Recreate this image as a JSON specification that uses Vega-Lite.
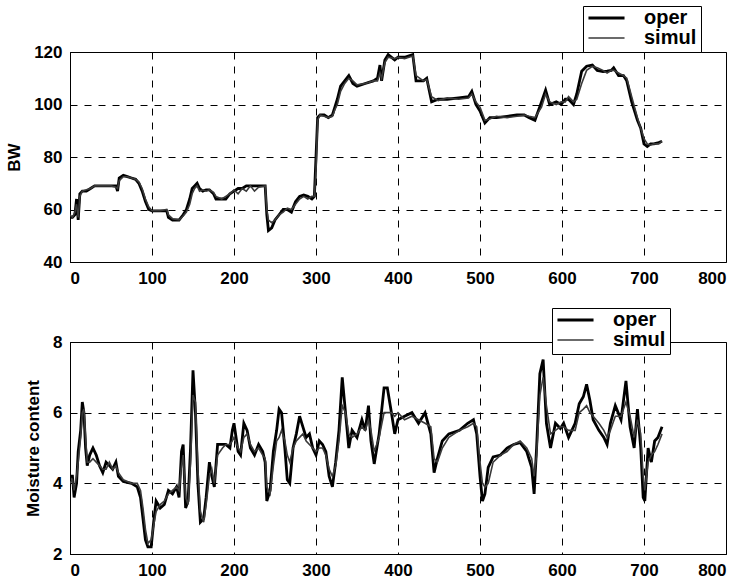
{
  "$schema": "https://vega.github.io/schema/vega-lite/v6.json",
  "background": "white",
  "padding": {"left": 5, "top": 5, "right": 5, "bottom": 5},
  "autosize": {"type": "pad"},
  "spacing": 80,
  "bounds": "flush",
  "config": {
    "font": "Liberation Sans",
    "view": {"stroke": "black", "strokeWidth": 1},
    "axis": {
      "labelFont": "Liberation Sans", "labelFontWeight": "bold", "labelFontSize": 17, "labelColor": "black",
      "titleFont": "Liberation Sans", "titleFontWeight": "bold", "titleFontSize": 17, "titleColor": "black",
      "domainColor": "black", "ticks": false, "labelPadding": 8,
      "grid": true, "gridColor": "black", "gridDash": [7, 7], "gridOpacity": 1, "gridWidth": 1
    },
    "legend": {
      "labelFont": "Liberation Sans", "labelFontWeight": "bold", "labelFontSize": 20, "labelColor": "black",
      "symbolType": "stroke", "symbolSize": 1300, "symbolStrokeWidth": 2, "clipHeight": 16,
      "strokeColor": "black", "fillColor": "white", "padding": 4, "rowPadding": 0, "labelOffset": 18
    }
  },
  "resolve": {"scale": {"color": "independent", "strokeWidth": "independent"}, "legend": {"color": "independent"}},
  "vconcat": [
    {
      "width": 656, "height": 210,
      "data": {"values": [
        {"t":0,"oper":57,"simul":58},{"t":3,"oper":57,"simul":57},{"t":6,"oper":58,"simul":59},{"t":8,"oper":64,"simul":62},{"t":10,"oper":56,"simul":57},{"t":12,"oper":66,"simul":65},{"t":15,"oper":67,"simul":67},{"t":20,"oper":67,"simul":67.5},{"t":25,"oper":68,"simul":68},{"t":30,"oper":69,"simul":69},{"t":40,"oper":69,"simul":69},{"t":50,"oper":69,"simul":69},{"t":56,"oper":69,"simul":68.5},{"t":58,"oper":67,"simul":68},{"t":60,"oper":72,"simul":71},{"t":65,"oper":73,"simul":72.5},{"t":70,"oper":72.5,"simul":72.5},{"t":75,"oper":72,"simul":72},{"t":80,"oper":71.5,"simul":71.5},{"t":84,"oper":70,"simul":70.5},{"t":88,"oper":67,"simul":68},{"t":92,"oper":63,"simul":64},{"t":96,"oper":60,"simul":61},{"t":100,"oper":59.5,"simul":59.5},{"t":110,"oper":59.5,"simul":59.5},{"t":118,"oper":59.5,"simul":60},{"t":120,"oper":57,"simul":58},{"t":125,"oper":56,"simul":56.5},{"t":133,"oper":56,"simul":56},{"t":138,"oper":58,"simul":57.5},{"t":142,"oper":60,"simul":59},{"t":146,"oper":64,"simul":62},{"t":149,"oper":68,"simul":66},{"t":152,"oper":69,"simul":68},{"t":155,"oper":70,"simul":69},{"t":158,"oper":68,"simul":67},{"t":162,"oper":67,"simul":67.5},{"t":166,"oper":67.5,"simul":67},{"t":170,"oper":67.5,"simul":67.5},{"t":175,"oper":66,"simul":66.5},{"t":178,"oper":64,"simul":65},{"t":185,"oper":64,"simul":64},{"t":190,"oper":64,"simul":65},{"t":195,"oper":66,"simul":66},{"t":200,"oper":67,"simul":67.5},{"t":205,"oper":68,"simul":66},{"t":210,"oper":68,"simul":68},{"t":215,"oper":69,"simul":67},{"t":220,"oper":69,"simul":69},{"t":225,"oper":69,"simul":67},{"t":230,"oper":69,"simul":68.5},{"t":238,"oper":69,"simul":69},{"t":240,"oper":58,"simul":60},{"t":242,"oper":52,"simul":56},{"t":246,"oper":53,"simul":55},{"t":250,"oper":56,"simul":56},{"t":255,"oper":58,"simul":58},{"t":260,"oper":60,"simul":59},{"t":265,"oper":60,"simul":60.5},{"t":270,"oper":59,"simul":60},{"t":275,"oper":63,"simul":62},{"t":280,"oper":65,"simul":64},{"t":285,"oper":65.5,"simul":65},{"t":290,"oper":65,"simul":64},{"t":295,"oper":64,"simul":65},{"t":298,"oper":65,"simul":65},{"t":300,"oper":80,"simul":75},{"t":302,"oper":95,"simul":94},{"t":305,"oper":96,"simul":96},{"t":310,"oper":96,"simul":95.5},{"t":315,"oper":95,"simul":95},{"t":320,"oper":96,"simul":95.5},{"t":323,"oper":99,"simul":98},{"t":326,"oper":102,"simul":100},{"t":330,"oper":107,"simul":105},{"t":335,"oper":109,"simul":108},{"t":340,"oper":111,"simul":110},{"t":345,"oper":108,"simul":109},{"t":350,"oper":107,"simul":107.5},{"t":360,"oper":108,"simul":108},{"t":370,"oper":109,"simul":109},{"t":375,"oper":110,"simul":109},{"t":378,"oper":115,"simul":112},{"t":380,"oper":109,"simul":110},{"t":384,"oper":117,"simul":116},{"t":388,"oper":119,"simul":118},{"t":396,"oper":117,"simul":117.5},{"t":400,"oper":118,"simul":118},{"t":408,"oper":118,"simul":117.5},{"t":418,"oper":119,"simul":118.5},{"t":422,"oper":109,"simul":111},{"t":431,"oper":109,"simul":109},{"t":435,"oper":110,"simul":109.5},{"t":441,"oper":101,"simul":103},{"t":449,"oper":102,"simul":101.5},{"t":460,"oper":102,"simul":102.5},{"t":474,"oper":102.5,"simul":102},{"t":486,"oper":103,"simul":102.5},{"t":490,"oper":105,"simul":104},{"t":495,"oper":100,"simul":101},{"t":500,"oper":97.5,"simul":99},{"t":506,"oper":93,"simul":94},{"t":512,"oper":95,"simul":94.5},{"t":520,"oper":95,"simul":95.5},{"t":533,"oper":95.5,"simul":95},{"t":545,"oper":96,"simul":95.5},{"t":554,"oper":96,"simul":96},{"t":560,"oper":95,"simul":95.5},{"t":567,"oper":94,"simul":95},{"t":575,"oper":101,"simul":99},{"t":580,"oper":105.5,"simul":104},{"t":585,"oper":100,"simul":101},{"t":593,"oper":101,"simul":100},{"t":599,"oper":100,"simul":101},{"t":604,"oper":102,"simul":101},{"t":608,"oper":102,"simul":103},{"t":614,"oper":100,"simul":101},{"t":618,"oper":104,"simul":102},{"t":624,"oper":112.7,"simul":108},{"t":630,"oper":114.6,"simul":113},{"t":637,"oper":115,"simul":114.5},{"t":643,"oper":113,"simul":114},{"t":650,"oper":112.5,"simul":113},{"t":655,"oper":112.7,"simul":112},{"t":660,"oper":113,"simul":113},{"t":663,"oper":114,"simul":113},{"t":669,"oper":111,"simul":112},{"t":675,"oper":111,"simul":111},{"t":679,"oper":109,"simul":110},{"t":685,"oper":101,"simul":103},{"t":692,"oper":94,"simul":95},{"t":696,"oper":91,"simul":91},{"t":700,"oper":85,"simul":87},{"t":704,"oper":84,"simul":85},{"t":708,"oper":85,"simul":84.5},{"t":712,"oper":85,"simul":85},{"t":718,"oper":85.5,"simul":85},{"t":722,"oper":86,"simul":86}
      ]},
      "transform": [{"fold": ["oper", "simul"], "as": ["s", "v"]}],
      "mark": {"type": "line", "clip": true},
      "encoding": {
        "x": {"field": "t", "type": "quantitative", "scale": {"domain": [0, 800], "nice": false}, "axis": {"title": null, "values": [0,100,200,300,400,500,600,700,800]}},
        "y": {"field": "v", "type": "quantitative", "scale": {"domain": [40, 120], "nice": false, "zero": false}, "axis": {"title": "BW", "values": [40,60,80,100,120], "titlePadding": 10}},
        "color": {"field": "s", "type": "nominal", "scale": {"domain": ["oper", "simul"], "range": ["#000000", "#3a3a3a"]},
          "legend": {"title": null, "orient": "none", "legendX": 513, "legendY": -46}},
        "strokeWidth": {"field": "s", "type": "nominal", "scale": {"domain": ["oper", "simul"], "range": [2.8, 1.6]}, "legend": null},
        "order": {"field": "s", "type": "nominal"}
      }
    },
    {
      "width": 656, "height": 212,
      "data": {"values": [
        {"t":0,"oper":4.2,"simul":4.0},{"t":3,"oper":4.2,"simul":4.1},{"t":5,"oper":3.6,"simul":3.8},{"t":8,"oper":4.0,"simul":4.2},{"t":10,"oper":4.9,"simul":4.6},{"t":13,"oper":5.5,"simul":5.3},{"t":15,"oper":6.3,"simul":6.0},{"t":17,"oper":6.0,"simul":6.1},{"t":19,"oper":5.0,"simul":5.3},{"t":21,"oper":4.5,"simul":4.6},{"t":24,"oper":4.8,"simul":4.6},{"t":28,"oper":5.0,"simul":4.7},{"t":32,"oper":4.8,"simul":4.6},{"t":36,"oper":4.5,"simul":4.5},{"t":40,"oper":4.3,"simul":4.4},{"t":44,"oper":4.6,"simul":4.4},{"t":48,"oper":4.5,"simul":4.6},{"t":52,"oper":4.4,"simul":4.4},{"t":56,"oper":4.6,"simul":4.5},{"t":59,"oper":4.2,"simul":4.3},{"t":65,"oper":4.05,"simul":4.1},{"t":75,"oper":4.0,"simul":4.0},{"t":82,"oper":3.9,"simul":4.0},{"t":86,"oper":3.6,"simul":3.8},{"t":89,"oper":3.0,"simul":3.3},{"t":92,"oper":2.4,"simul":2.7},{"t":95,"oper":2.2,"simul":2.3},{"t":99,"oper":2.2,"simul":2.4},{"t":102,"oper":2.9,"simul":2.8},{"t":105,"oper":3.5,"simul":3.2},{"t":110,"oper":3.3,"simul":3.4},{"t":115,"oper":3.4,"simul":3.5},{"t":120,"oper":3.8,"simul":3.7},{"t":125,"oper":3.7,"simul":3.8},{"t":130,"oper":3.9,"simul":3.9},{"t":133,"oper":3.6,"simul":3.8},{"t":136,"oper":4.9,"simul":4.5},{"t":138,"oper":5.1,"simul":4.8},{"t":141,"oper":3.3,"simul":3.6},{"t":144,"oper":3.5,"simul":3.4},{"t":147,"oper":5.0,"simul":4.6},{"t":150,"oper":7.2,"simul":6.5},{"t":153,"oper":6.0,"simul":6.3},{"t":156,"oper":4.0,"simul":4.4},{"t":159,"oper":2.9,"simul":3.2},{"t":163,"oper":3.0,"simul":2.9},{"t":166,"oper":3.6,"simul":3.4},{"t":170,"oper":4.6,"simul":4.2},{"t":173,"oper":4.2,"simul":4.4},{"t":176,"oper":3.9,"simul":4.0},{"t":180,"oper":5.1,"simul":4.8},{"t":186,"oper":5.1,"simul":5.0},{"t":190,"oper":5.1,"simul":5.1},{"t":195,"oper":5.0,"simul":5.1},{"t":198,"oper":5.5,"simul":5.2},{"t":200,"oper":5.7,"simul":5.3},{"t":205,"oper":4.9,"simul":5.0},{"t":208,"oper":4.8,"simul":4.9},{"t":212,"oper":5.7,"simul":5.3},{"t":216,"oper":5.5,"simul":5.4},{"t":220,"oper":5.0,"simul":5.1},{"t":225,"oper":4.8,"simul":4.9},{"t":230,"oper":5.1,"simul":5.0},{"t":235,"oper":4.9,"simul":4.8},{"t":238,"oper":4.6,"simul":4.7},{"t":240,"oper":3.5,"simul":3.9},{"t":244,"oper":3.8,"simul":3.7},{"t":248,"oper":4.9,"simul":4.5},{"t":252,"oper":5.5,"simul":5.2},{"t":255,"oper":6.1,"simul":5.3},{"t":258,"oper":6.0,"simul":5.5},{"t":262,"oper":5.0,"simul":5.2},{"t":265,"oper":4.1,"simul":4.8},{"t":268,"oper":4.0,"simul":4.6},{"t":272,"oper":5.0,"simul":5.0},{"t":276,"oper":5.4,"simul":5.2},{"t":280,"oper":5.9,"simul":5.3},{"t":284,"oper":5.6,"simul":5.4},{"t":288,"oper":5.3,"simul":5.2},{"t":292,"oper":5.4,"simul":5.1},{"t":296,"oper":5.0,"simul":5.0},{"t":300,"oper":4.8,"simul":4.9},{"t":304,"oper":5.2,"simul":5.0},{"t":308,"oper":5.1,"simul":5.0},{"t":312,"oper":4.9,"simul":4.8},{"t":316,"oper":4.2,"simul":4.4},{"t":320,"oper":3.9,"simul":4.2},{"t":324,"oper":4.6,"simul":4.5},{"t":328,"oper":5.5,"simul":5.2},{"t":332,"oper":7.0,"simul":6.2},{"t":336,"oper":6.0,"simul":6.0},{"t":340,"oper":5.0,"simul":5.4},{"t":344,"oper":5.5,"simul":5.3},{"t":350,"oper":5.3,"simul":5.4},{"t":356,"oper":5.8,"simul":5.6},{"t":360,"oper":5.5,"simul":5.5},{"t":364,"oper":6.2,"simul":5.8},{"t":367,"oper":5.2,"simul":5.5},{"t":371,"oper":4.55,"simul":4.9},{"t":377,"oper":5.4,"simul":5.3},{"t":383,"oper":6.7,"simul":6.0},{"t":387,"oper":6.7,"simul":6.0},{"t":392,"oper":6.0,"simul":6.0},{"t":396,"oper":5.4,"simul":5.9},{"t":400,"oper":5.8,"simul":6.0},{"t":408,"oper":5.9,"simul":5.8},{"t":417,"oper":6.0,"simul":5.9},{"t":425,"oper":5.7,"simul":5.8},{"t":433,"oper":6.0,"simul":5.7},{"t":440,"oper":5.4,"simul":5.6},{"t":444,"oper":4.3,"simul":4.7},{"t":448,"oper":4.7,"simul":4.6},{"t":454,"oper":5.2,"simul":5.0},{"t":462,"oper":5.4,"simul":5.3},{"t":475,"oper":5.5,"simul":5.5},{"t":485,"oper":5.7,"simul":5.6},{"t":492,"oper":5.8,"simul":5.7},{"t":496,"oper":5.4,"simul":5.6},{"t":500,"oper":4.2,"simul":4.6},{"t":503,"oper":3.5,"simul":4.0},{"t":506,"oper":3.7,"simul":3.9},{"t":510,"oper":4.45,"simul":4.0},{"t":516,"oper":4.75,"simul":4.6},{"t":525,"oper":4.8,"simul":4.8},{"t":533,"oper":5.0,"simul":4.9},{"t":541,"oper":5.1,"simul":5.1},{"t":549,"oper":5.15,"simul":5.2},{"t":557,"oper":4.9,"simul":5.0},{"t":563,"oper":4.45,"simul":4.7},{"t":566,"oper":3.7,"simul":4.2},{"t":569,"oper":5.0,"simul":4.8},{"t":573,"oper":7.1,"simul":6.5},{"t":577,"oper":7.5,"simul":7.0},{"t":581,"oper":5.7,"simul":6.2},{"t":586,"oper":5.0,"simul":5.4},{"t":592,"oper":5.7,"simul":5.5},{"t":598,"oper":5.55,"simul":5.6},{"t":602,"oper":5.7,"simul":5.6},{"t":608,"oper":5.3,"simul":5.5},{"t":616,"oper":5.7,"simul":5.5},{"t":621,"oper":6.25,"simul":6.0},{"t":626,"oper":6.45,"simul":6.1},{"t":630,"oper":6.8,"simul":6.2},{"t":634,"oper":6.35,"simul":6.0},{"t":638,"oper":5.8,"simul":5.9},{"t":645,"oper":5.5,"simul":5.7},{"t":651,"oper":5.3,"simul":5.5},{"t":655,"oper":5.1,"simul":5.3},{"t":659,"oper":5.7,"simul":5.5},{"t":665,"oper":6.2,"simul":5.9},{"t":672,"oper":5.8,"simul":5.9},{"t":678,"oper":6.9,"simul":6.3},{"t":683,"oper":5.6,"simul":5.9},{"t":688,"oper":5.0,"simul":5.3},{"t":692,"oper":6.1,"simul":5.8},{"t":696,"oper":5.0,"simul":5.4},{"t":699,"oper":3.6,"simul":4.2},{"t":701,"oper":3.5,"simul":3.8},{"t":705,"oper":5.0,"simul":4.6},{"t":709,"oper":4.6,"simul":4.8},{"t":713,"oper":5.2,"simul":4.9},{"t":717,"oper":5.3,"simul":5.1},{"t":722,"oper":5.6,"simul":5.4}
      ]},
      "transform": [{"fold": ["oper", "simul"], "as": ["s", "v"]}],
      "mark": {"type": "line", "clip": true},
      "encoding": {
        "x": {"field": "t", "type": "quantitative", "scale": {"domain": [0, 800], "nice": false}, "axis": {"title": null, "values": [0,100,200,300,400,500,600,700,800]}},
        "y": {"field": "v", "type": "quantitative", "scale": {"domain": [2, 8], "nice": false, "zero": false}, "axis": {"title": "Moisture content", "values": [2,4,6,8], "titlePadding": 10}},
        "color": {"field": "s", "type": "nominal", "scale": {"domain": ["oper", "simul"], "range": ["#000000", "#3a3a3a"]},
          "legend": {"title": null, "orient": "none", "legendX": 482, "legendY": -34}},
        "strokeWidth": {"field": "s", "type": "nominal", "scale": {"domain": ["oper", "simul"], "range": [2.8, 1.6]}, "legend": null},
        "order": {"field": "s", "type": "nominal"}
      }
    }
  ]
}
